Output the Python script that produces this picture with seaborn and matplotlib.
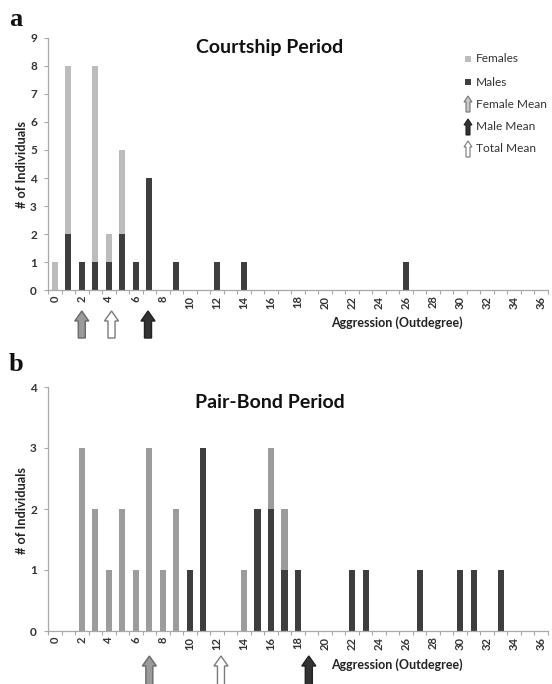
import matplotlib
matplotlib.use("Agg")
import matplotlib.pyplot as plt
import matplotlib.patches as mpatches
import matplotlib.transforms as mtransforms
import seaborn as sns
import pandas as pd
import numpy as np

# ---------------- data ----------------
bins = list(range(37))
tick_labels = [str(b) if b % 2 == 0 else "" for b in bins]

a_female = {0: 1, 1: 6, 3: 7, 4: 1, 5: 3}
a_male = {1: 2, 2: 1, 3: 1, 4: 1, 5: 2, 6: 1, 7: 4, 9: 1, 12: 1, 14: 1, 26: 1}

b_female = {2: 3, 3: 2, 4: 1, 5: 2, 6: 1, 7: 3, 8: 1, 9: 2, 14: 1, 16: 1, 17: 1}
b_male = {10: 1, 11: 3, 15: 2, 16: 2, 17: 1, 18: 1, 22: 1, 23: 1, 27: 1, 30: 1, 31: 1, 33: 1}

# means
a_means = {"female": 2.0, "total": 4.2, "male": 6.9}
b_means = {"female": 7.0, "total": 12.3, "male": 18.8}

titles = ["Courtship Period", "Pair-Bond Period"]
panel_letters = ["a", "b"]
ymax = [9, 4]

# ---------------- style ----------------
sns.set_theme(style="white")
plt.rcParams["font.family"] = ["Lato", "DejaVu Sans"]

W, H = 552, 684
fig = plt.figure(figsize=(W / 100, H / 100), dpi=100)

def fx(px):
    return px / W

def fy(py):
    return 1 - py / H

axis_col = "#a8a8a8"
male_col = "#3e3e3e"
fem_cols = ["#bcbcbc", "#9c9c9c"]

panels = [
    dict(female=a_female, male=a_male, means=a_means, top=38, bot=290,
         arrow_top=311, arrow_bot=338, title_y=47, xlab_y=323, letter_y=20, ylab_y=165),
    dict(female=b_female, male=b_male, means=b_means, top=387, bot=631,
         arrow_top=656, arrow_bot=686, title_y=403, xlab_y=665, letter_y=365, ylab_y=510),
]

left_px, right_px = 48, 548

for i, P in enumerate(panels):
    ax = fig.add_axes([fx(left_px), fy(P["bot"]), fx(right_px - left_px),
                       (P["bot"] - P["top"]) / H])
    df = pd.DataFrame({
        "bin": bins,
        "female": [P["female"].get(b, 0) for b in bins],
        "male": [P["male"].get(b, 0) for b in bins],
    })
    df["total"] = df["female"] + df["male"]
    sns.barplot(data=df, x="bin", y="total", order=bins, color=fem_cols[i],
                width=0.45, errorbar=None, saturation=1, linewidth=0, ax=ax)
    sns.barplot(data=df, x="bin", y="male", order=bins, color=male_col,
                width=0.45, errorbar=None, saturation=1, linewidth=0, ax=ax)
    ax.set_xlim(-0.5, 36.5)
    ax.set_ylim(0, ymax[i])
    ax.set_yticks(range(ymax[i] + 1))
    ax.set_yticklabels([str(v) for v in range(ymax[i] + 1)], fontsize=8.5,
                       fontweight="bold", color="#333333")
    ax.set_xticks(bins)
    ax.set_xticklabels(tick_labels, rotation=90, fontsize=8, fontweight="bold",
                       color="#333333")
    ax.set_xticks(np.arange(-0.5, 37, 1), minor=True)
    ax.tick_params(axis="x", which="major", length=0, pad=4)
    ax.tick_params(axis="x", which="minor", length=3, color=axis_col, width=0.8,
                   direction="out", bottom=True)
    ax.tick_params(axis="y", which="major", length=3, color=axis_col, width=0.8,
                   direction="out", left=True, pad=5)
    for s in ["top", "right"]:
        ax.spines[s].set_visible(False)
    for s in ["left", "bottom"]:
        ax.spines[s].set_color(axis_col)
        ax.spines[s].set_linewidth(0.9)
    ax.set_xlabel("")
    ax.set_ylabel("")

    # mean arrows below the axis (y in axes fraction)
    tr = mtransforms.blended_transform_factory(ax.transData, ax.transAxes)
    h_ax = P["bot"] - P["top"]
    yt = -(P["arrow_top"] - P["bot"]) / h_ax
    yb = -(P["arrow_bot"] - P["bot"]) / h_ax
    hh = 10 / h_ax
    m = P["means"]
    styles = {"female": ("#9a9a9a", "#6a6a6a"), "total": ("white", "#7a7a7a"),
              "male": ("#333333", "#222222")}
    for k in ["female", "total", "male"]:
        fc, ec = styles[k]
        ax.add_patch(mpatches.Polygon(
            [(m[k] - 0.26, yb), (m[k] - 0.26, yt - hh), (m[k] - 0.52, yt - hh),
             (m[k], yt), (m[k] + 0.52, yt - hh), (m[k] + 0.26, yt - hh), (m[k] + 0.26, yb)],
            closed=True, facecolor=fc, edgecolor=ec, lw=1.0, transform=tr,
            clip_on=False, zorder=5))

    # texts
    fig.text(fx(270), fy(P["title_y"]), titles[i], ha="center", va="center",
             fontsize=14, fontweight="bold", color="#111111")
    fig.text(fx(397), fy(P["xlab_y"]), "Aggression (Outdegree)", ha="center",
             va="center", fontsize=9, fontweight="bold", color="#222222")
    fig.text(fx(22), fy(P["ylab_y"]), "# of Individuals", ha="center", va="center",
             rotation=90, fontsize=9.2, fontweight="bold", color="#222222")
    fig.text(fx(16), fy(P["letter_y"]), panel_letters[i], ha="center", va="center",
             fontsize=19, fontweight="bold", family=["Liberation Serif", "DejaVu Serif"],
             color="#111111")

# ---------------- legend (panel a) ----------------
leg_items = [("Females", "sq", fem_cols[0]), ("Males", "sq", male_col),
             ("Female Mean", "arrow", ("#c8c8c8", "#777777")),
             ("Male Mean", "arrow", ("#333333", "#222222")),
             ("Total Mean", "arrow", ("white", "#777777"))]
leg_y = [59, 82, 104, 127, 149]
for (lab, kind, col), y in zip(leg_items, leg_y):
    if kind == "sq":
        fig.patches.append(mpatches.Rectangle((fx(465), fy(y + 3)), fx(6), 6 / H,
                                              facecolor=col, edgecolor="none",
                                              transform=fig.transFigure))
    else:
        fc, ec = col
        x0 = 468
        pts = [(x0 - 2, y + 8), (x0 - 2, y - 2), (x0 - 4, y - 2), (x0, y - 8),
               (x0 + 4, y - 2), (x0 + 2, y - 2), (x0 + 2, y + 8)]
        fig.patches.append(mpatches.Polygon([(fx(a), fy(b)) for a, b in pts], closed=True,
                                            facecolor=fc, edgecolor=ec, lw=0.8,
                                            transform=fig.transFigure))
    fig.text(fx(476), fy(y), lab, ha="left", va="center", fontsize=8.6,
             color="#333333")

fig.savefig("out.png", dpi=100)
